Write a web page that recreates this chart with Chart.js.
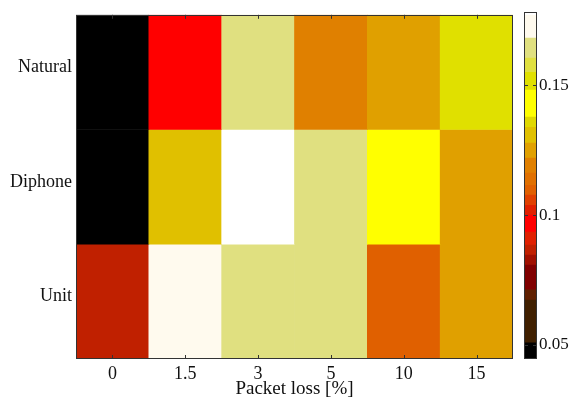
<!DOCTYPE html>
<html>
<head>
<meta charset="utf-8">
<script src="https://cdn.jsdelivr.net/npm/chart.js@4.4.1/dist/chart.umd.min.js"></script>
<style>
  html, body { margin: 0; padding: 0; background: #fff; }
  #wrap { position: relative; width: 570px; height: 398px; }
  #heat { position: absolute; left: 0; top: 0; }
  #bar { position: absolute; left: 515px; top: 0; }
</style>
</head>
<body>
<div id="wrap">
  <canvas id="heat" width="520" height="398"></canvas>
  <canvas id="bar" width="55" height="398"></canvas>
</div>
<script>
// packet loss columns and the three synthesis systems (top to bottom)
const lossLabels = ['0', '1.5', '3', '5', '10', '15'];
const systems = ['Natural', 'Diphone', 'Unit'];

const natural = [0.045, 0.097, 0.164, 0.119, 0.125, 0.151];
const diphone = [0.045, 0.131, 0.178, 0.164, 0.143, 0.125];
const unit    = [0.086, 0.172, 0.164, 0.164, 0.110, 0.125];

// colour levels of the scale (edges low -> high, one colour per level)
const levelEdges = [0.0446, 0.0508, 0.0673, 0.0712, 0.0808, 0.0846, 0.0885, 0.0935, 0.1,
                    0.1038, 0.1077, 0.1115, 0.1162, 0.1219, 0.1277, 0.1338, 0.1377, 0.1481,
                    0.155, 0.1604, 0.1681, 0.1769, 0.1781];
const levelColors = ['#000000', '#402000', '#602000', '#800000', '#a01000', '#c02000', '#e02000',
                     '#ff0000', '#e02000', '#e04000', '#e06000', '#e07000', '#e08000', '#e0a000',
                     '#e0c000', '#e0d800', '#ffff00', '#e0e000', '#e0e040', '#e0e080', '#fffaee',
                     '#ffffff'];
const colorTicks = [0.05, 0.1, 0.15];

const serif = '"Liberation Serif", "Times New Roman", serif';
const textColor = '#111';
const frameColor = '#333';

function levelColor(v) {
    for (let i = 0; i < levelColors.length; i++) {
        if (v < levelEdges[i + 1]) return levelColors[i];
    }
    return levelColors[levelColors.length - 1];
}

// box round the plot area plus short inward tick marks
const boxFrame = (axisId, vertical) => ({
    id: 'boxFrame',
    afterDraw(chart) {
        const { ctx, chartArea: a } = chart;
        const scale = chart.scales[axisId];
        ctx.save();
        ctx.strokeStyle = frameColor;
        ctx.lineWidth = 1;
        ctx.strokeRect(Math.round(a.left) + 0.5, Math.round(a.top) + 0.5,
                       Math.round(a.right - a.left) - 1, Math.round(a.bottom - a.top) - 1);
        ctx.beginPath();
        scale.ticks.forEach((t, i) => {
            const p = Math.round(scale.getPixelForTick(i)) + 0.5;
            if (vertical) {
                ctx.moveTo(a.left, p); ctx.lineTo(a.left + 4, p);
                ctx.moveTo(a.right - 4, p); ctx.lineTo(a.right, p);
            } else {
                ctx.moveTo(p, a.top); ctx.lineTo(p, a.top + 4);
                ctx.moveTo(p, a.bottom - 4); ctx.lineTo(p, a.bottom);
            }
        });
        ctx.stroke();
        ctx.restore();
    }
});

// --- heat map ---
const rows = [natural, diphone, unit];
new Chart(document.getElementById('heat'), {
    type: 'bar',
    data: {
        labels: lossLabels,
        datasets: rows.map((vals, r) => ({
            label: systems[r],
            data: vals.map(() => [r, r + 1]),
            backgroundColor: vals.map(levelColor),
            borderWidth: 0,
            barPercentage: 1,
            categoryPercentage: 1,
            grouped: false
        }))
    },
    options: {
        responsive: false,
        animation: false,
        layout: { padding: { top: 12, right: 7, left: 0, bottom: 0 } },
        plugins: { legend: { display: false }, tooltip: { enabled: false } },
        scales: {
            x: {
                grid: { display: false, drawTicks: false },
                border: { display: false },
                ticks: { padding: 4, color: textColor, font: { family: serif, size: 18 } },
                title: {
                    display: true, text: 'Packet loss [%]', color: textColor,
                    padding: { top: 0, bottom: -2 },
                    font: { family: serif, size: 19 }
                },
                afterFit: s => { s.height = 39; }
            },
            y: {
                type: 'linear',
                min: 0,
                max: 3,
                reverse: true,
                afterBuildTicks: s => { s.ticks = systems.map((_, i) => ({ value: i + 0.5 })); },
                ticks: {
                    callback: v => systems[Math.floor(v)],
                    padding: 4, labelOffset: -5, color: textColor, font: { family: serif, size: 18 }
                },
                grid: { display: false, drawTicks: false },
                border: { display: false },
                afterFit: s => { s.width = 76; }
            }
        }
    },
    plugins: [boxFrame('x', false)]
});

// --- colour scale ---
new Chart(document.getElementById('bar'), {
    type: 'bar',
    data: {
        labels: [''],
        datasets: levelColors.map((c, i) => ({
            data: [[levelEdges[i], levelEdges[i + 1]]],
            backgroundColor: c,
            borderWidth: 0,
            barPercentage: 1,
            categoryPercentage: 1,
            grouped: false
        }))
    },
    options: {
        responsive: false,
        animation: false,
        layout: { padding: { top: 12, left: 9, bottom: 39, right: 0 } },
        plugins: { legend: { display: false }, tooltip: { enabled: false } },
        scales: {
            x: { display: false },
            y: {
                position: 'right',
                min: levelEdges[0],
                max: levelEdges[levelEdges.length - 1],
                afterBuildTicks: s => { s.ticks = colorTicks.map(v => ({ value: v })); },
                ticks: {
                    callback: v => String(v),
                    padding: 2, color: textColor, font: { family: serif, size: 17 }
                },
                grid: { display: false, drawTicks: false },
                border: { display: false },
                afterFit: s => { s.width = 33; }
            }
        }
    },
    plugins: [boxFrame('y', true)]
});
</script>
</body>
</html>
